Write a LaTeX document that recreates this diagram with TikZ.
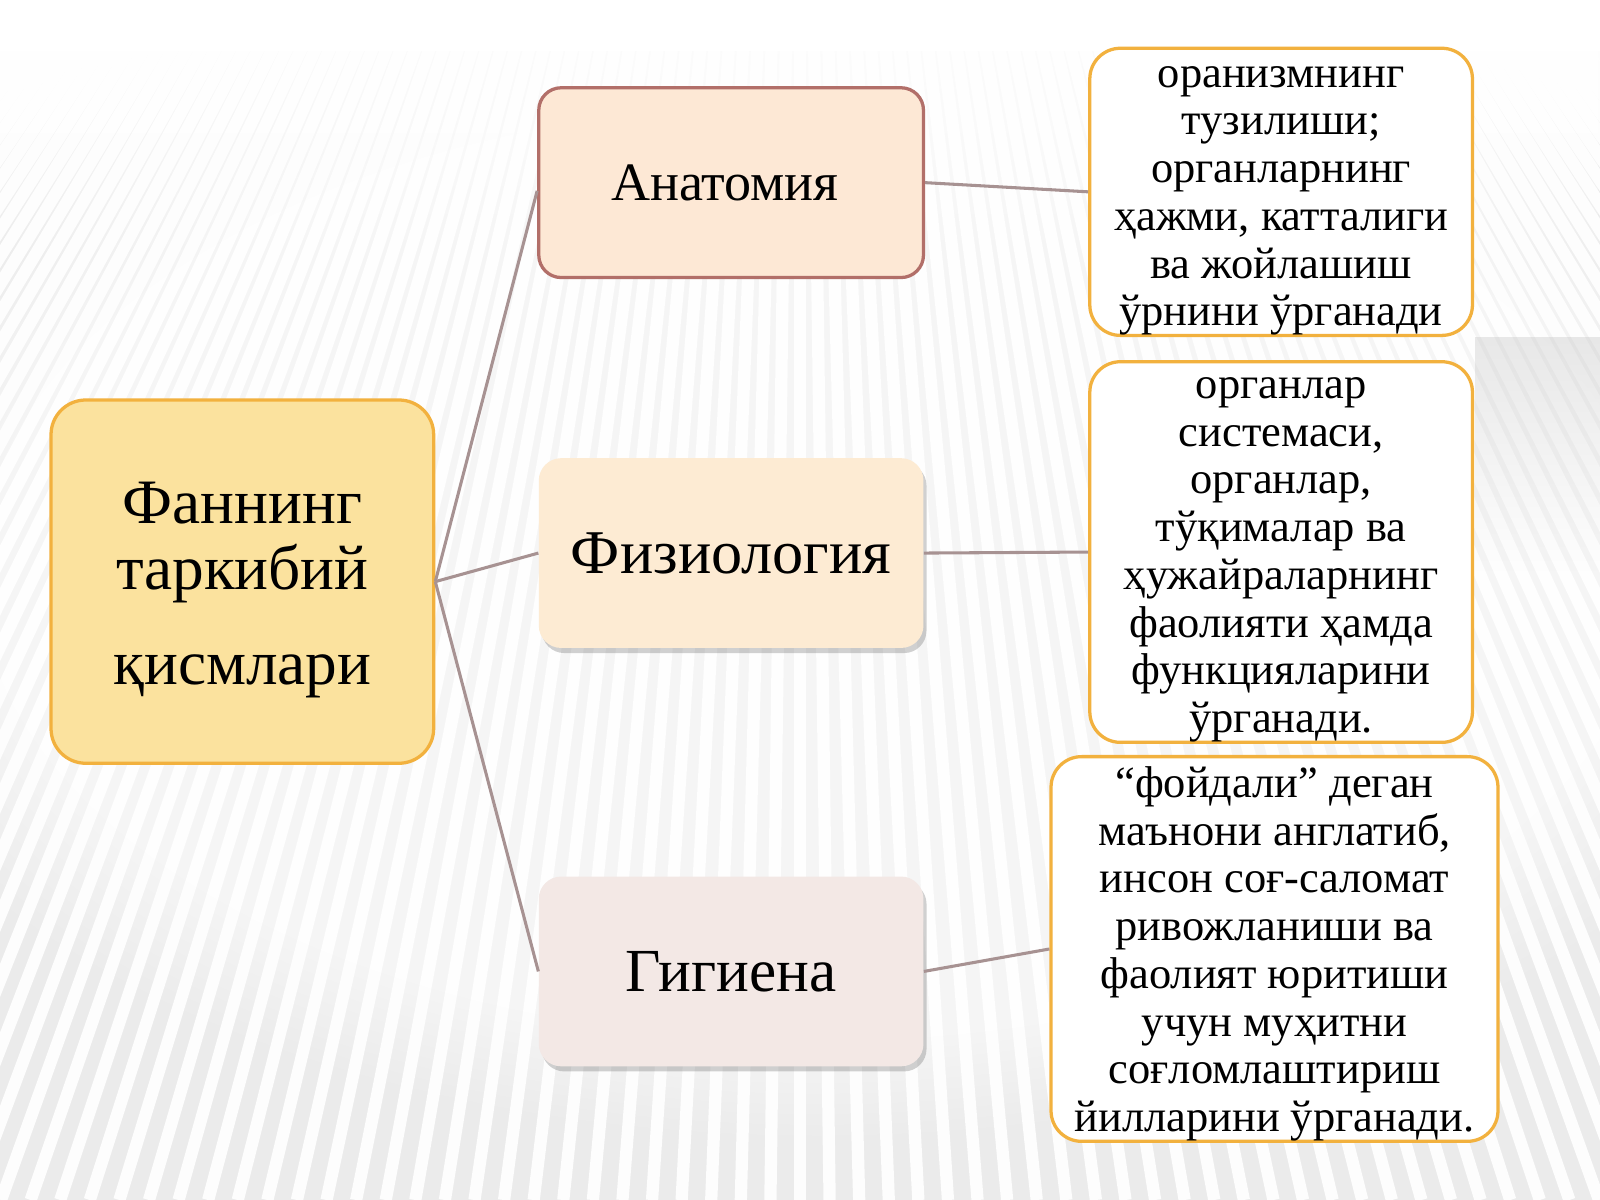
\documentclass[tikz,border=0pt]{standalone}
\usepackage{fontspec}
\setmainfont{Liberation Serif}
\usetikzlibrary{shadows,fadings}
\definecolor{bgbase}{HTML}{EBEBEB}
\definecolor{mainfill}{HTML}{FBE29E}
\definecolor{orangeline}{HTML}{F2B13E}
\definecolor{anatfill}{HTML}{FDE8D5}
\definecolor{anatline}{HTML}{B26F69}
\definecolor{fizfill}{HTML}{FDEBD3}
\definecolor{gigfill}{HTML}{F3E8E5}
\definecolor{conn}{HTML}{A79292}
\tikzfading[name=fadedown, top color=transparent!0, bottom color=transparent!100]
\begin{document}
\begin{tikzpicture}[x=0.5pt,y=-0.5pt,
  mainbox/.style={draw=orangeline, line width=1.6pt, fill=mainfill, rounded corners=17pt,
    minimum width=187.5pt, minimum height=178pt, inner sep=0pt, align=center,
    font=\fontsize{31}{32.5}\selectfont},
  midbox/.style={rounded corners=11pt, minimum width=188.5pt, minimum height=93pt,
    inner sep=0pt, align=center},
  softshadow/.style={drop shadow={shadow xshift=1.5pt, shadow yshift=-2.5pt, opacity=0.3, fill=black!60}},
  infobox/.style={draw=orangeline, line width=1.6pt, fill=white, rounded corners=15pt,
    inner sep=0pt, align=center, font=\fontsize{21.8}{23.4}\selectfont},
  link/.style={draw=conn, line width=1.5pt}
]
\useasboundingbox (0,0) rectangle (1568,1176);
% background
\fill[bgbase] (0,0) rectangle (1568,1176);
\begin{scope}
\clip (0,0) rectangle (1568,1176);
\foreach \i in {-75,...,75} {
  \draw[white, line width=6pt, opacity=0.9] (784,-1000) -- ({784+\i*29},1176);
}
\fill[white, opacity=0.55, path fading=circle with fuzzy edge 20 percent] (800,560) ellipse (1000 and 560);
\fill[black!25, opacity=0.35, path fading=fadedown] (1445,330) rectangle (1568,560);
\end{scope}
\fill[white, path fading=fadedown] (0,0) rectangle (1568,260);
\fill[white] (0,0) rectangle (1568,50);

% nodes
\node[mainbox] (main) at (237.5,570) {\rule{0pt}{28.5pt}Фаннинг\\таркибий\hspace*{0.35em}\\[14pt]қисмлари};
\node[midbox, draw=anatline, line width=1.6pt, fill=anatfill,
      font=\fontsize{26.5}{30}\selectfont] (anat) at (716.5,179) {Анатомия\hspace*{6pt}};
\node[midbox, fill=fizfill, softshadow,
      font=\fontsize{30.5}{33}\selectfont] (fiz) at (716.5,542) {Физиология};
\node[midbox, fill=gigfill, softshadow,
      font=\fontsize{30}{33}\selectfont] (gig) at (716.5,952) {Гигиена};

\node[infobox, minimum width=187.5pt, minimum height=140pt] (r1) at (1255.5,188)
  {\rule{0pt}{19pt}оранизмнинг\\тузилиши;\\органларнинг\\ҳажми, катталиги\\ва жойлашиш\\ўрнини ўрганади};
\node[infobox, minimum width=187.5pt, minimum height=186pt] (r2) at (1255.5,541)
  {\rule{0pt}{18pt}органлар\\системаси,\\органлар,\\тўқималар ва\\ҳужайраларнинг\\фаолияти ҳамда\\функцияларини\\ўрганади.};
\node[infobox, minimum width=219pt, minimum height=185pt] (r3) at (1249,930)
  {\rule{0pt}{20pt}“фойдали” деган\\маънони англатиб,\\инсон соғ-саломат\\ривожланиши ва\\фаолият юритиши\\учун муҳитни\\соғломлаштириш\\йилларини ўрганади.};

% connectors
\draw[link] (main.east) -- ([yshift=-4pt]anat.west);
\draw[link] (main.east) -- (fiz.west);
\draw[link] (main.east) -- (gig.west);
\draw[link] (anat.east) -- (r1.west);
\draw[link] (fiz.east) -- (r2.west);
\draw[link] (gig.east) -- (r3.west);
\end{tikzpicture}
\end{document}
